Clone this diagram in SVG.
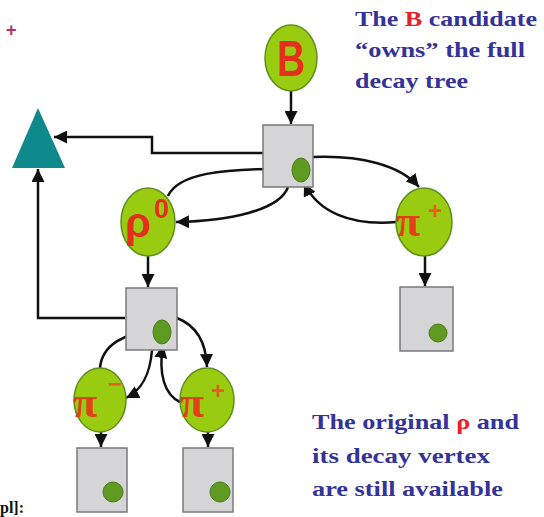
<svg xmlns="http://www.w3.org/2000/svg" width="544" height="517" viewBox="0 0 544 517">
<style>
.ell{fill:#99cc11;stroke:#5f8f1a;stroke-width:1.5}
.box{fill:#d5d5d8;stroke:#7a7a7a;stroke-width:1.5}
.dot{fill:#5f9a22;stroke:#4a7a18;stroke-width:1}
.con{fill:none;stroke:#111;stroke-width:2.5}
.note{font-family:"Liberation Serif",serif;font-weight:bold;font-size:22px;fill:#333399}
.sym{font-family:"Liberation Sans",sans-serif;font-weight:bold;fill:#e3301c}
.pi{font-family:"Liberation Serif",serif;font-weight:bold;fill:#e0401a}
.sup{font-family:"Liberation Sans",sans-serif;font-weight:bold;fill:#e0601a}
</style>
<defs>
<marker id="ah" viewBox="0 0 10 10" refX="10" refY="5" markerWidth="13" markerHeight="13" markerUnits="userSpaceOnUse" orient="auto">
<path d="M0,0 L10,5 L0,10 z" fill="#111"/>
</marker>
</defs>
<rect width="544" height="517" fill="#ffffff"/>

<text x="6" y="36" font-family="Liberation Sans,sans-serif" font-weight="bold" font-size="18" fill="#b0306a">+</text>

<g id="connectors">
<line class="con" x1="291" y1="91" x2="291" y2="124" marker-end="url(#ah)"/>
<path class="con" d="M263,153 H152 V137 H54" marker-end="url(#ah)"/>
<path class="con" d="M313,157 C360,155 400,165 419,187" marker-end="url(#ah)"/>
<path class="con" d="M397,222 C350,226 318,212 304,183" marker-end="url(#ah)"/>
<path class="con" d="M168,196 C178,174 220,168 292,169" marker-end="url(#ah)"/>
<path class="con" d="M288,187 C280,210 230,221 176,222" marker-end="url(#ah)"/>
<line class="con" x1="148" y1="256" x2="148" y2="287" marker-end="url(#ah)"/>
<path class="con" d="M125,318 H38 V169" marker-end="url(#ah)"/>
<line class="con" x1="425" y1="256" x2="425" y2="286" marker-end="url(#ah)"/>
<path class="con" d="M177,318 C195,325 206,340 207,367" marker-end="url(#ah)"/>
<path class="con" d="M180,402 C165,395 158,375 163,345" marker-end="url(#ah)"/>
<path class="con" d="M100,368 C102,345 125,332 153,332" marker-end="url(#ah)"/>
<path class="con" d="M152,350 C150,375 142,390 126,398" marker-end="url(#ah)"/>
<line class="con" x1="101" y1="432" x2="101" y2="447" marker-end="url(#ah)"/>
<line class="con" x1="208" y1="432" x2="208" y2="447" marker-end="url(#ah)"/>
</g>

<g id="triangle"><polygon points="38,108 12,168 65,168" fill="#0f8a8c"/></g>

<g id="B"><ellipse class="ell" cx="291" cy="58" rx="26" ry="33"/><text class="sym" font-size="50" text-anchor="middle" transform="translate(291,76) scale(0.78,1)">B</text></g>

<g id="vtxB"><rect class="box" x="263" y="125" width="50" height="62"/><ellipse class="dot" cx="301" cy="170" rx="9" ry="12"/></g>

<g id="rho0"><ellipse class="ell" cx="148" cy="222" rx="27" ry="34"/><text class="sym" x="125" y="237" font-size="42">ρ</text><text class="sym" x="154" y="218" font-size="27">0</text></g>

<g id="piplus1"><ellipse class="ell" cx="424" cy="222" rx="28" ry="34"/><text class="pi" x="396" y="236" font-size="44">π</text><text class="sup" x="428" y="219" font-size="24">+</text></g>

<g id="vtxRho"><rect class="box" x="126" y="288" width="51" height="62"/><ellipse class="dot" cx="162" cy="332" rx="9" ry="12"/></g>

<g id="box_piplus1"><rect class="box" x="400" y="287" width="53" height="64"/><circle class="dot" cx="438" cy="333" r="9"/></g>

<g id="piminus"><ellipse class="ell" cx="100" cy="400" rx="26" ry="32"/><text class="pi" x="73" y="417" font-size="44">π</text><text class="sup" x="108" y="392" font-size="24">−</text></g>

<g id="piplus2"><ellipse class="ell" cx="207" cy="400" rx="27" ry="32"/><text class="pi" x="180" y="417" font-size="44">π</text><text class="sup" x="211" y="399" font-size="24">+</text></g>

<g id="box_piminus"><rect class="box" x="77" y="448" width="50" height="64"/><circle class="dot" cx="113" cy="492" r="10"/></g>

<g id="box_piplus2"><rect class="box" x="183" y="448" width="50" height="64"/><circle class="dot" cx="220" cy="492" r="10"/></g>

<g id="note_top">
<text class="note" x="355" y="26" textLength="182" lengthAdjust="spacingAndGlyphs">The <tspan fill="#e8202a">B</tspan> candidate</text>
<text class="note" x="355" y="57" textLength="170" lengthAdjust="spacingAndGlyphs">“owns” the full</text>
<text class="note" x="355" y="88" textLength="113" lengthAdjust="spacingAndGlyphs">decay tree</text>
</g>

<g id="note_bottom">
<text class="note" x="312" y="429" textLength="207" lengthAdjust="spacingAndGlyphs">The original <tspan fill="#e8202a">ρ</tspan> and</text>
<text class="note" x="312" y="463" textLength="178" lengthAdjust="spacingAndGlyphs">its decay vertex</text>
<text class="note" x="312" y="496" textLength="191" lengthAdjust="spacingAndGlyphs">are still available</text>
</g>

<text x="0" y="513" font-family="Liberation Serif,serif" font-weight="bold" font-size="16" fill="#111">pl]:</text>
</svg>
